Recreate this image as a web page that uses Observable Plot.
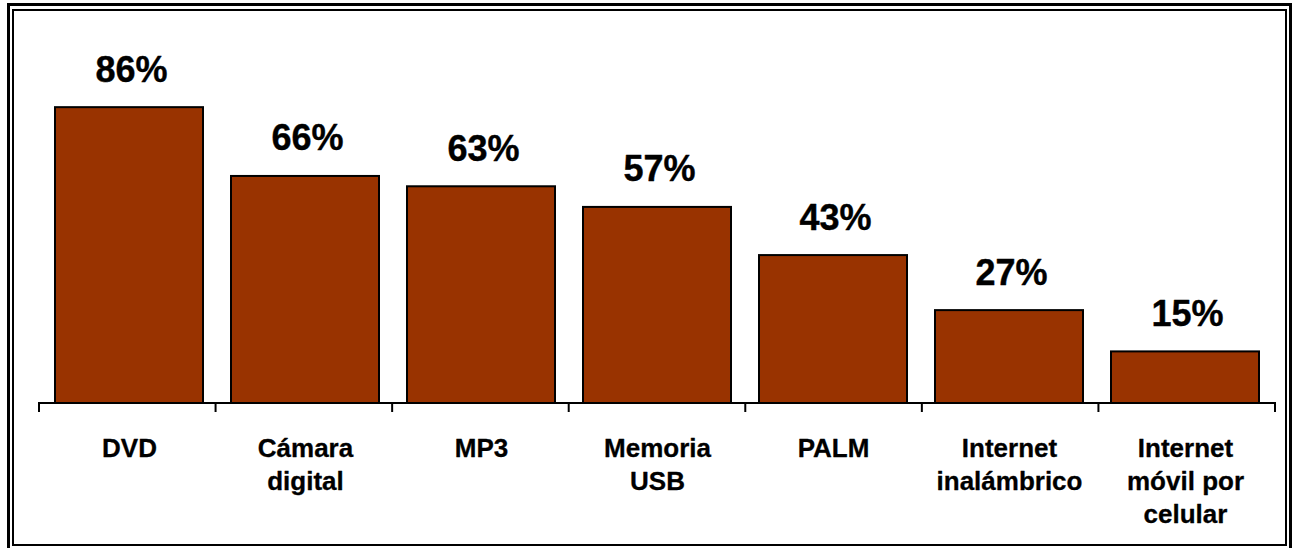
<!DOCTYPE html>
<html>
<head>
<meta charset="utf-8">
<script src="https://cdn.jsdelivr.net/npm/d3@7"></script>
<script src="https://cdn.jsdelivr.net/npm/@observablehq/plot@0.6"></script>
<style>
  html, body { margin: 0; padding: 0; background: #fff; }
  #wrap { position: relative; width: 1292px; height: 548px; overflow: hidden; font-family: "Liberation Sans", Arial, sans-serif; }
  #chart { position: absolute; left: 0; top: 0; z-index: 1; }
  #outer { position: absolute; z-index: 2; left: 7px; top: 3px; width: 1285px; height: 560px; border: 3px solid #000; box-sizing: border-box; background: transparent; }
  #inner { position: absolute; z-index: 3; left: 12px; top: 9px; width: 1275px; height: 537px; border: 2px solid #000; box-sizing: border-box; background: transparent; }
</style>
</head>
<body>
<div id="wrap">
  <div id="chart"></div>
  <div id="outer"></div>
  <div id="inner"></div>
</div>
<script>
const categories = ["DVD", "Cámara\ndigital", "MP3", "Memoria\nUSB", "PALM", "Internet\ninalámbrico", "Internet\nmóvil por\ncelular"];
const values = [86, 66, 63, 57, 43, 27, 15];
const valueLabels = ["86%", "66%", "63%", "57%", "43%", "27%", "15%"];

const data = categories.map((c, i) => ({category: c, value: values[i], label: valueLabels[i]}));

// axis line with ticks at the category boundaries
function boundaryAxis(index, scales, channels, dimensions) {
  const {width, marginLeft, marginRight} = dimensions;
  const n = categories.length;
  const step = (width - marginLeft - marginRight) / n;
  const y0 = scales.y(0);
  const g = d3.create("svg:g");
  g.append("line")
    .attr("x1", marginLeft - 1).attr("x2", width - marginRight + 1)
    .attr("y1", y0).attr("y2", y0)
    .attr("stroke", "#000").attr("stroke-width", 2.2);
  g.selectAll("line.tick").data(d3.range(n + 1)).join("line")
    .attr("class", "tick")
    .attr("x1", i => marginLeft + i * step).attr("x2", i => marginLeft + i * step)
    .attr("y1", y0).attr("y2", y0 + 9)
    .attr("stroke", "#000").attr("stroke-width", 2);
  return g.node();
}

const chart = Plot.plot({
  width: 1292,
  height: 548,
  marginLeft: 39,
  marginRight: 17,
  marginTop: 59,
  marginBottom: 145,
  style: {fontFamily: "'Liberation Sans', Arial, sans-serif", background: "transparent", overflow: "visible"},
  x: {domain: categories, paddingInner: 0.16, paddingOuter: 0.08, axis: null},
  y: {domain: [0, 100], axis: null},
  marks: [
    Plot.barY(data, {x: "category", y: "value", fill: "#993300", stroke: "#000", strokeWidth: 2}),
    boundaryAxis,
    Plot.text(data, {x: "category", y: "value", text: "label", lineAnchor: "bottom", dy: -26, dx: 2, fontSize: 36, fontWeight: "bold", fill: "#000", stroke: "#000", strokeWidth: 0.4}),
    Plot.text(data, {x: "category", y: () => 0, text: "category", lineAnchor: "top", dy: 30, fontSize: 26, fontWeight: "bold", lineHeight: 1.27, fill: "#000", stroke: "#000", strokeWidth: 0.3})
  ]
});
document.getElementById("chart").appendChild(chart);
</script>
</body>
</html>
